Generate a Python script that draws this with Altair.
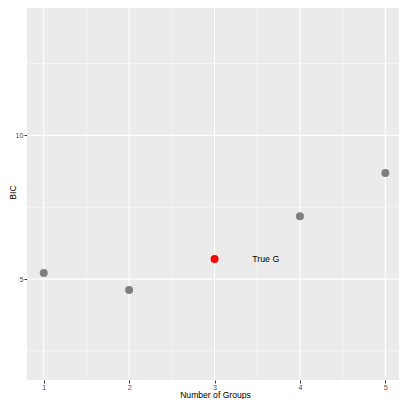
import altair as alt
import pandas as pd

groups = [1, 2, 3, 4, 5]
bic = [5.21, 4.62, 5.70, 7.19, 8.69]
is_true = [False, False, True, False, False]
label_text = ["True G"]
label_x = [3.6]
label_y = [5.70]
minor_x = [1.5, 2.5, 3.5, 4.5]
minor_y = [2.5, 7.5, 12.5]
major_x = [1, 2, 3, 4, 5]
major_y = [5, 10]

df = pd.DataFrame({"g": groups, "bic": bic, "true": is_true})
lab = pd.DataFrame({"x": label_x, "y": label_y, "t": label_text})

xs = alt.Scale(domain=[0.804, 5.16], nice=False, zero=False)
ys = alt.Scale(domain=[1.49, 14.43], nice=False, zero=False)

FONT = "Liberation Sans"

axX = alt.Axis(values=major_x, grid=False, domain=False, tickColor="#333333",
               tickSize=3, tickWidth=1, labelColor="#4D4D4D", labelFontSize=7.2,
               labelPadding=0, titleFontSize=8.6, titleFontWeight="normal",
               titleColor="black", titleX=188, titleY=17.8, titleBaseline="alphabetic",
               titleAlign="center", labelFont=FONT, titleFont=FONT)
axY = alt.Axis(values=major_y, grid=False, domain=False, tickColor="#333333",
               tickSize=3, tickWidth=1, labelColor="#4D4D4D", labelFontSize=7.2,
               labelPadding=1, titleFontSize=8.6, titleFontWeight="normal",
               titleColor="black", titleX=-12, titleY=184, titleBaseline="alphabetic",
               titleAlign="center", titleAngle=270, labelFont=FONT, titleFont=FONT)
XT = "Number of Groups"
YT = "BIC"

minx = alt.Chart(pd.DataFrame({"v": minor_x})).mark_rule(color="white", strokeWidth=0.5).encode(
    x=alt.X("v:Q", scale=xs, axis=axX, title=XT))
miny = alt.Chart(pd.DataFrame({"v": minor_y})).mark_rule(color="white", strokeWidth=0.5).encode(
    y=alt.Y("v:Q", scale=ys, axis=axY, title=YT))
majx = alt.Chart(pd.DataFrame({"v": major_x})).mark_rule(color="white", strokeWidth=1.1).encode(
    x=alt.X("v:Q", scale=xs, axis=axX, title=XT))
majy = alt.Chart(pd.DataFrame({"v": major_y})).mark_rule(color="white", strokeWidth=1.1).encode(
    y=alt.Y("v:Q", scale=ys, axis=axY, title=YT))

pts = alt.Chart(df).mark_circle(size=64, opacity=1).encode(
    x=alt.X("g:Q", scale=xs, axis=axX, title=XT),
    y=alt.Y("bic:Q", scale=ys, axis=axY, title=YT),
    color=alt.Color("true:N", scale=alt.Scale(domain=[False, True], range=["#7F7F7F", "#FF0000"]),
                    legend=None),
)

txt = alt.Chart(lab).mark_text(fontSize=8.8, font=FONT, color="black").encode(
    x=alt.X("x:Q", scale=xs, axis=axX, title=XT),
    y=alt.Y("y:Q", scale=ys, axis=axY, title=YT),
    text="t:N")

chart = alt.layer(minx, miny, majx, majy, pts, txt).properties(
    width=372, height=372,
    autosize=alt.AutoSizeParams(type="none"),
    padding={"left": 19, "top": 0, "right": 0, "bottom": 19},
).configure_view(fill="#EBEBEB", stroke=None)

chart.save("out.html", embed_options={"renderer": "svg", "actions": False})
